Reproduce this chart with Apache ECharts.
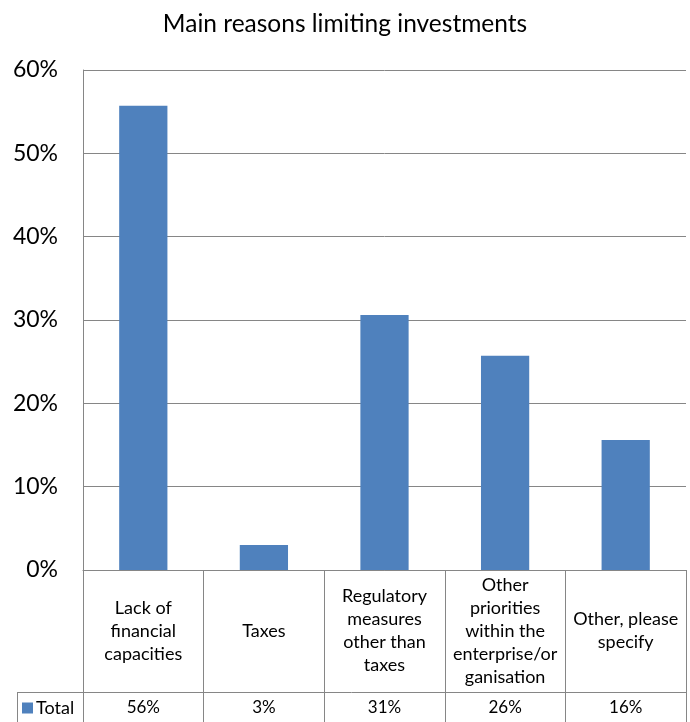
<!DOCTYPE html>
<html>
<head>
<meta charset="utf-8">
<script src="https://cdn.jsdelivr.net/npm/echarts@6/dist/echarts.min.js"></script>
<style>
  html, body { margin: 0; padding: 0; background: #ffffff; }
  #chart { width: 690px; height: 722px; }
</style>
</head>
<body>
<div id="chart"></div>
<script>
// Survey results: share of respondents naming each reason
const chartTitle = 'Main reasons limiting investments';
const categories = [
  'Lack of\nfinancial\ncapacities',
  'Taxes',
  'Regulatory\nmeasures\nother than\ntaxes',
  'Other\npriorities\nwithin the\nenterprise/or\nganisation',
  'Other, please\nspecify'
];
const seriesName = 'Total';
const totalValues = [55.7, 3.0, 30.6, 25.7, 15.6];
const yTicks = { min: 0, max: 60, interval: 10 };

// Table row text is derived from the same values that size the bars
const totalLabels = totalValues.map(v => Math.round(v) + '%');

const FONT = 'Lato, "Open Sans", sans-serif';
const LINE = '#868686';
const BAR = '#4F81BD';

const W = 690, H = 722;
const grid = { left: 83, right: 4, top: 70, bottom: 152 };
const axisY = H - grid.bottom;          // baseline of the plot
const rowTop = 692;                     // top edge of the data-table row
const rowLeft = 17;                     // left edge of the legend cell

const chart = echarts.init(document.getElementById('chart'), null, { renderer: 'canvas' });

chart.setOption({
  backgroundColor: '#ffffff',
  animation: false,
  title: {
    text: chartTitle,
    left: 'center',
    top: 7,
    textStyle: { fontFamily: FONT, fontSize: 24.5, fontWeight: 'normal', color: '#000' }
  },
  legend: {
    data: [seriesName],
    left: 22,
    top: rowTop + 7,
    icon: 'rect',
    itemWidth: 11,
    itemHeight: 11,
    itemGap: 0,
    padding: 0,
    textStyle: { fontFamily: FONT, fontSize: 18, color: '#000', padding: [0, 0, 0, -2] }
  },
  grid: grid,
  xAxis: [
    {
      type: 'category',
      data: categories,
      boundaryGap: true,
      axisLine: { show: true, lineStyle: { color: LINE, width: 1 } },
      axisTick: { show: true, interval: 0, length: grid.bottom, lineStyle: { color: LINE, width: 1 } },
      axisLabel: {
        interval: 0,
        margin: 61,
        verticalAlign: 'middle',
        lineHeight: 23,
        fontFamily: FONT,
        fontSize: 18,
        color: '#000'
      }
    },
    {
      type: 'category',
      data: totalLabels,
      position: 'bottom',
      boundaryGap: true,
      axisLine: { show: false },
      axisTick: { show: false },
      axisLabel: {
        interval: 0,
        margin: rowTop - axisY + 16,
        verticalAlign: 'middle',
        fontFamily: FONT,
        fontSize: 17,
        color: '#000'
      }
    }
  ],
  yAxis: {
    type: 'value',
    min: yTicks.min,
    max: yTicks.max,
    interval: yTicks.interval,
    axisLine: { show: true, lineStyle: { color: LINE, width: 1 } },
    axisTick: { show: false },
    splitLine: { show: true, lineStyle: { color: LINE, width: 1 } },
    axisLabel: {
      formatter: '{value}%',
      margin: 25,
      fontFamily: FONT,
      fontSize: 23,
      color: '#000'
    }
  },
  series: [
    {
      name: seriesName,
      type: 'bar',
      xAxisIndex: 0,
      data: totalValues,
      barWidth: '40%',
      itemStyle: { color: BAR }
    }
  ],
  graphic: [
    {
      type: 'line',
      shape: { x1: rowLeft, y1: rowTop + 0.5, x2: W - grid.right, y2: rowTop + 0.5 },
      style: { stroke: LINE, lineWidth: 1 },
      silent: true
    },
    {
      type: 'line',
      shape: { x1: rowLeft + 0.5, y1: rowTop, x2: rowLeft + 0.5, y2: H },
      style: { stroke: LINE, lineWidth: 1 },
      silent: true
    }
  ]
});
</script>
</body>
</html>
